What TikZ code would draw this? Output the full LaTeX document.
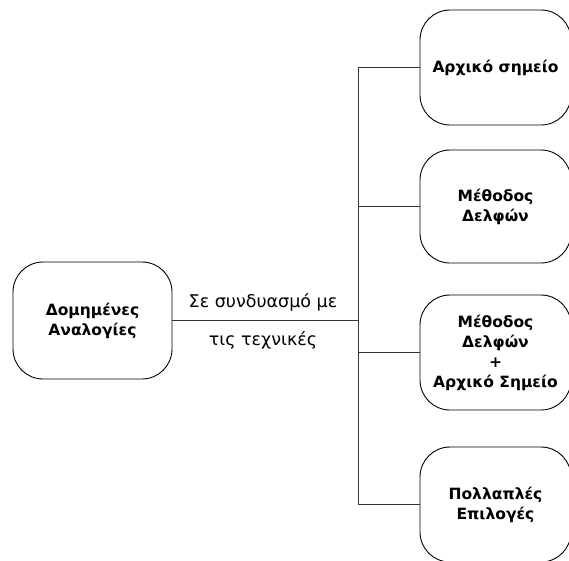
\documentclass[tikz,border=0pt]{standalone}
\usepackage{fontspec}
\setmainfont{DejaVu Sans}
\begin{document}
\begin{tikzpicture}[x=1pt,y=-1pt,
  box/.style={draw=black, line width=0.9pt, rounded corners=30pt, fill=white,
    align=center, font=\bfseries\fontsize{15.5}{20}\selectfont, inner sep=0pt},
  conn/.style={draw=black!80, line width=0.9pt},
  lbl/.style={font=\fontsize{17.5}{20}\selectfont, inner sep=0pt}]
\useasboundingbox (0,0) rectangle (569,560);
\node[box, minimum width=159pt, minimum height=117pt] (L) at (92.5,320.5) {Δομημένες\\Αναλογίες};
\node[box, minimum width=151pt, minimum height=115pt] (A) at (495.5,67.5) {Αρχικό σημείο};
\node[box, minimum width=151pt, minimum height=113pt] (B) at (495.5,206.5) {Μέθοδος\\Δελφών};
\node[box, minimum width=151pt, minimum height=115pt] (C) at (495.5,352.5) {Μέθοδος\\Δελφών\\+\\Αρχικό Σημείο};
\node[box, minimum width=151pt, minimum height=115pt] (D) at (495.5,504.5) {Πολλαπλές\\Επιλογές};
\coordinate (J) at (358,320.5);
\coordinate (T) at (358,67.5);
\coordinate (Bt) at (358,504.5);
\draw[conn] (L.east) -- (J);
\draw[conn] (T) -- (Bt);
\draw[conn] (T) -- (A.west);
\draw[conn] (358,206.5) -- (B.west);
\draw[conn] (358,352.5) -- (C.west);
\draw[conn] (Bt) -- (D.west);
\node[lbl] (t1) at (263,302) {Σε συνδυασμό με};
\node[lbl] (t2) at (263,340) {τις τεχνικές};
\end{tikzpicture}
\end{document}
